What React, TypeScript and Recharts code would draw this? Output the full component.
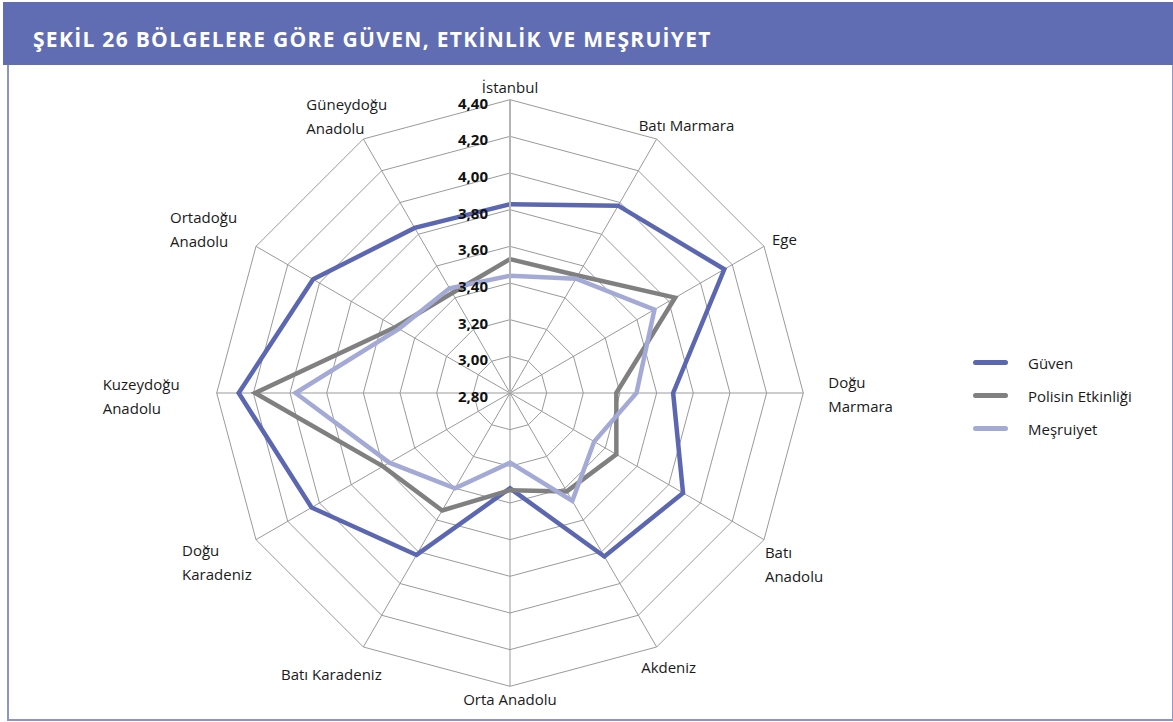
import React from 'react';
import { RadarChart, Radar, PolarGrid, PolarAngleAxis, PolarRadiusAxis, Legend } from 'recharts';

const CATEGORIES = [
  'İstanbul', 'Batı Marmara', 'Ege', 'Doğu Marmara', 'Batı Anadolu', 'Akdeniz',
  'Orta Anadolu', 'Batı Karadeniz', 'Doğu Karadeniz', 'Kuzeydoğu Anadolu', 'Ortadoğu Anadolu', 'Güneydoğu Anadolu',
];
const GUVEN = [3.83, 3.98, 4.15, 3.69, 3.89, 3.83, 3.32, 3.82, 4.05, 4.28, 4.04, 3.84];
const ETKINLIK = [3.53, 3.54, 3.84, 3.38, 3.47, 3.42, 3.33, 3.54, 3.60, 4.19, 3.52, 3.43];
const MESRUIYET = [3.44, 3.52, 3.71, 3.49, 3.33, 3.48, 3.18, 3.40, 3.56, 3.97, 3.50, 3.46];
const RADIUS_TICKS = [2.8, 3.0, 3.2, 3.4, 3.6, 3.8, 4.0, 4.2, 4.4];

const SERIES = [
  { key: 'guven', name: 'Güven', color: '#5b67b0' },
  { key: 'etkinlik', name: 'Polisin Etkinliği', color: '#808080' },
  { key: 'mesruiyet', name: 'Meşruiyet', color: '#a4aad6' },
];

const data = CATEGORIES.map((name, i) => ({
  name,
  guven: GUVEN[i],
  etkinlik: ETKINLIK[i],
  mesruiyet: MESRUIYET[i],
}));

// label placement around the web (offset from the tick point, first baseline)
const LABEL_POS: { anchor: 'start' | 'middle' | 'end'; dx: number; dy: number; wrap: boolean }[] = [
  { anchor: 'middle', dx: 0, dy: 1, wrap: false },
  { anchor: 'start', dx: -22, dy: -1, wrap: false },
  { anchor: 'start', dx: 1, dy: 3, wrap: false },
  { anchor: 'start', dx: 17, dy: -5, wrap: true },
  { anchor: 'start', dx: -6, dy: 14, wrap: true },
  { anchor: 'middle', dx: 8, dy: 19, wrap: false },
  { anchor: 'middle', dx: 0, dy: 11, wrap: false },
  { anchor: 'middle', dx: -28, dy: 26, wrap: false },
  { anchor: 'start', dx: -67, dy: 12, wrap: true },
  { anchor: 'start', dx: -106, dy: -3, wrap: true },
  { anchor: 'start', dx: -79, dy: -19, wrap: true },
  { anchor: 'start', dx: -53, dy: -22, wrap: true },
];

const FONT = '"Open Sans", Lato, sans-serif';

const AngleTick = (props: any) => {
  const { x, y, payload } = props;
  const idx = CATEGORIES.indexOf(payload.value);
  const pos = LABEL_POS[idx] || { anchor: 'middle', dx: 0, dy: 0, wrap: false };
  const words = String(payload.value).split(' ');
  const lines = pos.wrap && words.length > 1 ? [words[0], words.slice(1).join(' ')] : [payload.value];
  return (
    <text x={x + pos.dx} y={y + pos.dy} textAnchor={pos.anchor} fontSize={15} fill="#1a1a1a" fontFamily={FONT}>
      {lines.map((l: string, i: number) => (
        <tspan key={i} x={x + pos.dx} dy={i === 0 ? 0 : 24}>{l}</tspan>
      ))}
    </text>
  );
};

const RadiusTick = (props: any) => {
  const { x, y, payload } = props;
  return (
    <text
      x={x - 22}
      y={y + 9}
      textAnchor="end"
      fontSize={15}
      fontWeight={700}
      fill="#111"
      fontFamily={FONT}
    >
      {Number(payload.value).toFixed(2).replace('.', ',')}
    </text>
  );
};

const LegendContent = () => (
  <div style={{ fontFamily: FONT, fontSize: 15, color: '#1a1a1a' }}>
    {SERIES.map((s) => (
      <div key={s.key} style={{ display: 'flex', alignItems: 'center', height: 33 }}>
        <div style={{ width: 35, height: 5, borderRadius: 3, background: s.color, marginRight: 20 }} />
        <span>{s.name}</span>
      </div>
    ))}
  </div>
);

export default function App() {
  return (
    <div style={{ position: 'relative', width: 1173, height: 722, background: '#fff', overflow: 'hidden' }}>
      <style>{`body{margin:0}`}</style>
      <div style={{ position: 'absolute', left: 3, top: 2, width: 1170, height: 63, background: '#606db3' }} />
      <div
        style={{
          position: 'absolute', left: 33, top: 25, color: '#fff', fontFamily: FONT, fontWeight: 700,
          fontSize: 21, letterSpacing: 1.3, lineHeight: '28px',
        }}
      >
        ŞEKİL 26 BÖLGELERE GÖRE GÜVEN, ETKİNLİK VE MEŞRUİYET
      </div>
      <div
        style={{
          position: 'absolute', left: 7, top: 65, width: 1163, height: 654,
          borderLeft: '2px solid #8d94cc', borderBottom: '2px solid #8d94cc', borderRight: '2px solid #8d94cc',
        }}
      />
      <div style={{ position: 'absolute', left: 0, top: 0 }}>
        <RadarChart width={1173} height={722} data={data} cx={510} cy={393} outerRadius={293.3}>
          <PolarGrid gridType="polygon" stroke="#9a9a9a" strokeWidth={1} />
          <PolarAngleAxis dataKey="name" tick={<AngleTick />} tickLine={false} axisLine={false} />
          <PolarRadiusAxis
            angle={90}
            domain={[2.8, 4.4]}
            ticks={RADIUS_TICKS as any}
            tickCount={9}
            tick={<RadiusTick />}
            tickLine={false}
            axisLine={{ stroke: '#b4b4b4', strokeWidth: 2 }}
          />
          <PolarRadiusAxis radiusAxisId="r2" angle={0} domain={[2.8, 4.4]} tick={false} tickLine={false} axisLine={{ stroke: '#b4b4b4', strokeWidth: 2 }} />
          <PolarRadiusAxis radiusAxisId="r3" angle={180} domain={[2.8, 4.4]} tick={false} tickLine={false} axisLine={{ stroke: '#b4b4b4', strokeWidth: 2 }} />
          <PolarRadiusAxis radiusAxisId="r4" angle={270} domain={[2.8, 4.4]} tick={false} tickLine={false} axisLine={{ stroke: '#b4b4b4', strokeWidth: 2 }} />
          {SERIES.map((s) => (
            <Radar
              key={s.key}
              name={s.name}
              dataKey={s.key}
              stroke={s.color}
              strokeWidth={4.5}
              fill="none"
              fillOpacity={0}
              dot={false}
              isAnimationActive={false}
            />
          ))}
          <Legend
            layout="vertical"
            content={<LegendContent />}
            wrapperStyle={{ position: 'absolute', left: 973, top: 346, width: 190 }}
          />
        </RadarChart>
      </div>
    </div>
  );
}
